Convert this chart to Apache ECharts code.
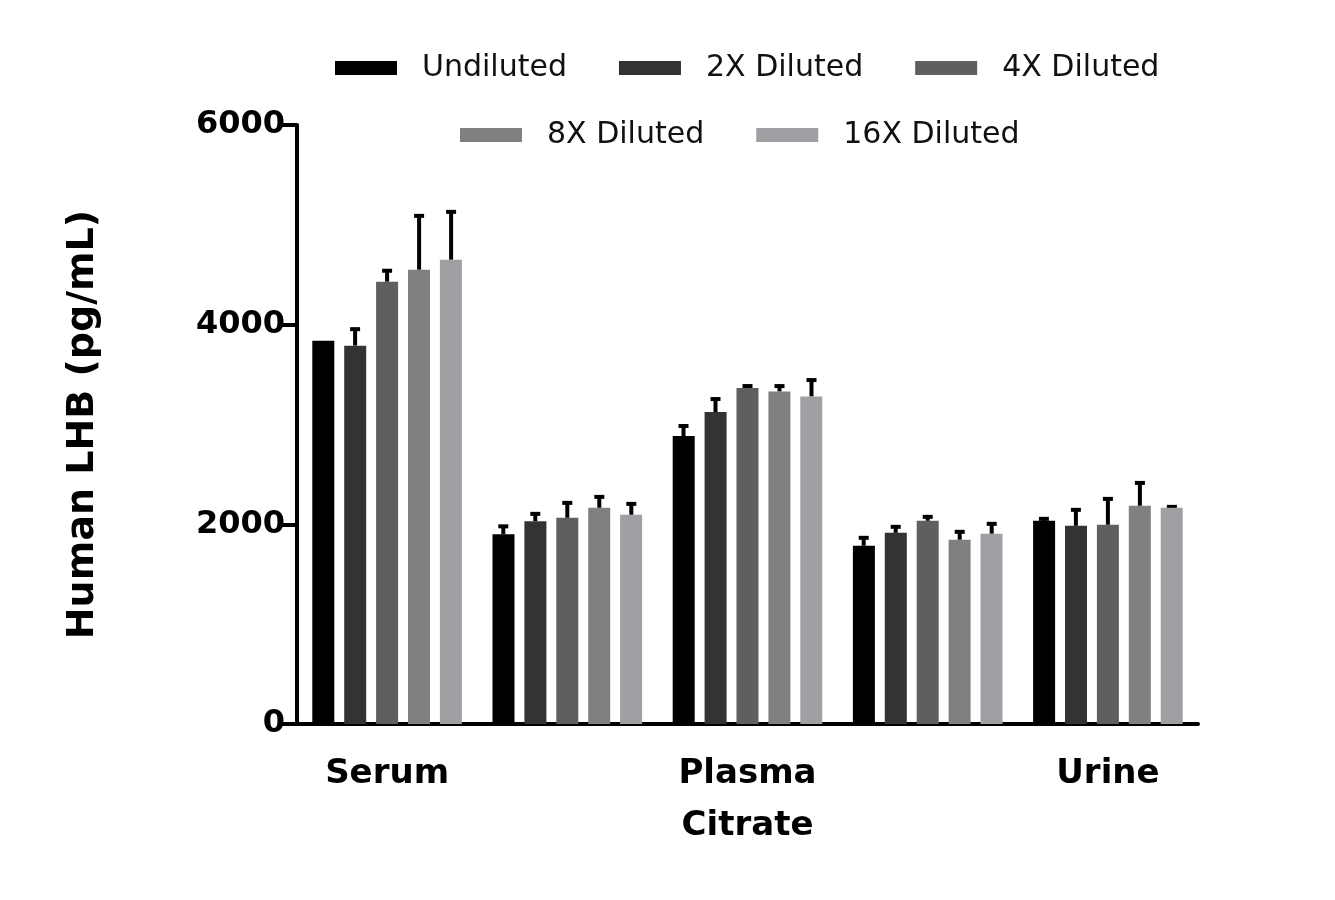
<!DOCTYPE html>
<html><head><meta charset="utf-8">
<script src="https://cdn.jsdelivr.net/npm/echarts@6/dist/echarts.min.js"></script>
<style>html,body{margin:0;background:#fff}#c{width:1335px;height:900px}</style>
</head><body><div id="c"></div>
<script>
const categories = ['Serum', 'Plasma\nEDTA', 'Plasma\nCitrate', 'Plasma\nHeparin', 'Urine'];
const seriesNames = ['Undiluted', '2X Diluted', '4X Diluted', '8X Diluted', '16X Diluted'];
const colors = ['#000000', '#333333', '#5f5f5f', '#808080', '#a0a0a4'];
const undiluted = [3840, 1900, 2885, 1785, 2035];
const dil2 = [3790, 2030, 3125, 1915, 1985];
const dil4 = [4430, 2065, 3365, 2035, 1995];
const dil8 = [4550, 2165, 3330, 1845, 2185];
const dil16 = [4650, 2095, 3280, 1905, 2165];
const errUndiluted = [0, 80, 100, 80, 20];
const err2 = [165, 75, 130, 60, 160];
const err4 = [110, 150, 20, 40, 260];
const err8 = [540, 110, 55, 80, 230];
const err16 = [480, 110, 165, 100, 10];
const values = [undiluted, dil2, dil4, dil8, dil16];
const errors = [errUndiluted, err2, err4, err8, err16];
const yTicks = [0, 2000, 4000, 6000];

const font = '"DejaVu Sans", sans-serif';
const series = [];
values.forEach((v, i) => {
  series.push({name: seriesNames[i], type: 'bar', data: v, barWidth: 22, barGap: '45%',
    itemStyle: {color: colors[i]}});
});
values.forEach((v, i) => {
  series.push({type: 'custom', silent: true, z: 1,
    data: v.map((val, j) => [j, val, val + errors[i][j]]),
    renderItem: (params, api) => {
      const off = (i - 2) * 32;
      const b = api.coord([api.value(0), api.value(1)]);
      const t = api.coord([api.value(0), api.value(2)]);
      const x = b[0] + off;
      if (api.value(2) - api.value(1) < 1) return null;
      return {type: 'group', children: [
        {type: 'line', shape: {x1: x, y1: b[1], x2: x, y2: t[1]}, style: {stroke: '#000', lineWidth: 4}},
        {type: 'line', shape: {x1: x - 5, y1: t[1], x2: x + 5, y2: t[1]}, style: {stroke: '#000', lineWidth: 4}}
      ]};
    }});
});
const legendCommon = {itemWidth: 62, itemHeight: 14, itemGap: 52, icon: 'rect',
  textStyle: {fontFamily: font, fontSize: 30, color: '#111', padding: [0, 0, 0, 20]}};
echarts.init(document.getElementById('c')).setOption({
  animation: false,
  legend: [
    Object.assign({data: seriesNames.slice(0, 3), left: 330, top: 48}, legendCommon),
    Object.assign({data: seriesNames.slice(3), left: 455, top: 115}, legendCommon)
  ],
  grid: {left: 297, right: 137, top: 125, bottom: 176},
  xAxis: {type: 'category', data: categories,
    axisLine: {lineStyle: {color: '#000', width: 4}},
    axisTick: {alignWithLabel: true, length: 14, lineStyle: {color: '#000', width: 4}},
    axisLabel: {fontFamily: font, fontSize: 34, fontWeight: 'bold', color: '#000', margin: 24, lineHeight: 52}},
  yAxis: {type: 'value', min: 0, max: 6000, interval: 2000,
    name: 'Human LHB (pg/mL)', nameLocation: 'middle', nameGap: 195,
    nameTextStyle: {fontFamily: font, fontSize: 38, fontWeight: 'bold', color: '#000'},
    axisLine: {show: true, lineStyle: {color: '#000', width: 4}},
    axisTick: {show: true, length: 16, lineStyle: {color: '#000', width: 4}},
    splitLine: {show: false},
    axisLabel: {fontFamily: font, fontSize: 32, fontWeight: 'bold', color: '#000', margin: 12,
      formatter: v => yTicks.includes(v) ? String(v) : ''}},
  series
});
</script></body></html>
